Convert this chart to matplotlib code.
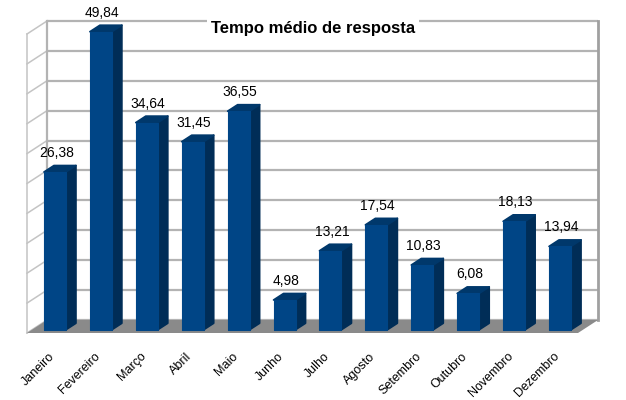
import matplotlib
matplotlib.use("Agg")
import matplotlib.pyplot as plt
from matplotlib.patches import Polygon
import numpy as np

plt.rcParams['font.family'] = ['Liberation Sans', 'DejaVu Sans']

months = ["Janeiro", "Fevereiro", "Março", "Abril", "Maio", "Junho", "Julho",
          "Agosto", "Setembro", "Outubro", "Novembro", "Dezembro"]
values = [26.38, 49.84, 34.64, 31.45, 36.55, 4.98, 13.21, 17.54, 10.83, 6.08, 18.13, 13.94]
labels = ["26,38", "49,84", "34,64", "31,45", "36,55", "4,98", "13,21",
          "17,54", "10,83", "6,08", "18,13", "13,94"]
title = "Tempo médio de resposta"
ymax = 50
ystep = 5

W, H = 626, 400
fig = plt.figure(figsize=(W / 100, H / 100), dpi=100)
fig.patch.set_facecolor('white')
ax = fig.add_axes([27 / W, (H - 333) / H, (578 - 27) / W, (333 - 34) / H])
n = len(months)
ax.set_xlim(-0.5, n - 0.5)
ax.set_ylim(0, ymax)
for s in ax.spines.values():
    s.set_visible(False)
ax.set_yticks([])

# depth offset (data units) for the full floor depth
DX = 20 / (551 / n)
DY = 13 / (299 / ymax)

grid_c = '#b3b3b3'
x0, x1 = -0.5, n - 0.5

# back wall grid lines
for v in np.arange(0, ymax + 0.1, ystep):
    ax.plot([x0 + DX, x1 + DX], [v + DY, v + DY], color=grid_c, lw=1.6,
            clip_on=False, zorder=1, solid_capstyle='butt')
    # left wall lines
    ax.plot([x0, x0 + DX], [v, v + DY], color='#c4c4c4', lw=1.1, clip_on=False, zorder=1)
# vertical wall edges
ax.plot([x0, x0], [0, ymax], color='#c4c4c4', lw=1.1, clip_on=False, zorder=1)
ax.plot([x0 + DX, x0 + DX], [DY, ymax + DY], color=grid_c, lw=1.6, clip_on=False, zorder=1)
ax.plot([x1 + DX, x1 + DX], [DY, ymax + DY], color='#a0a0a0', lw=2.0, clip_on=False, zorder=1)

# floor
floor = Polygon([(x0, 0), (x1, 0), (x1 + DX, DY), (x0 + DX, DY)], closed=True,
                facecolor='#8a8a8a', edgecolor='none', clip_on=False, zorder=2)
ax.add_patch(floor)

# bars
xs = np.arange(n)
w = 0.48
f0, f1 = 0.25, 0.75
front_c = '#004586'
side_c = '#002d57'
top_c = '#00386b'
ax.bar(xs + f0 * DX, values, width=w, bottom=f0 * DY, color=front_c,
       edgecolor=front_c, linewidth=0.8, joinstyle='round', zorder=4, clip_on=False)
for i, v in enumerate(values):
    xl = i - w / 2 + f0 * DX
    xr = i + w / 2 + f0 * DX
    b = f0 * DY
    t = v + f0 * DY
    ddx, ddy = (f1 - f0) * DX, (f1 - f0) * DY
    side = Polygon([(xr, b), (xr + ddx, b + ddy), (xr + ddx, t + ddy), (xr, t)],
                   closed=True, facecolor=side_c, edgecolor=side_c, lw=1.2,
                   joinstyle='round', zorder=3, clip_on=False)
    top = Polygon([(xl, t), (xr, t), (xr + ddx, t + ddy), (xl + ddx, t + ddy)],
                  closed=True, facecolor=top_c, edgecolor=top_c, lw=1.2,
                  joinstyle='round', zorder=3, clip_on=False)
    ax.add_patch(side)
    ax.add_patch(top)
    ax.annotate(labels[i], xy=(i + 0.03 + f0 * DX, t + ddy), xytext=(0, 4.0),
                textcoords='offset points', ha='center', va='bottom',
                fontsize=10, color='black', zorder=6, annotation_clip=False)

ax.set_xticks(xs - 0.04)
ax.set_xticklabels(months, rotation=45, ha='right', va='top',
                   rotation_mode='anchor', fontsize=9)
ax.tick_params(axis='x', length=0, pad=12.5)

fig.text(313 / W, 1 - 28 / H, title, ha='center', va='center', fontsize=12,
         fontweight='bold', color='black', zorder=10,
         bbox=dict(facecolor='white', edgecolor='none', pad=2.5))

fig.savefig('out.png', dpi=100)
